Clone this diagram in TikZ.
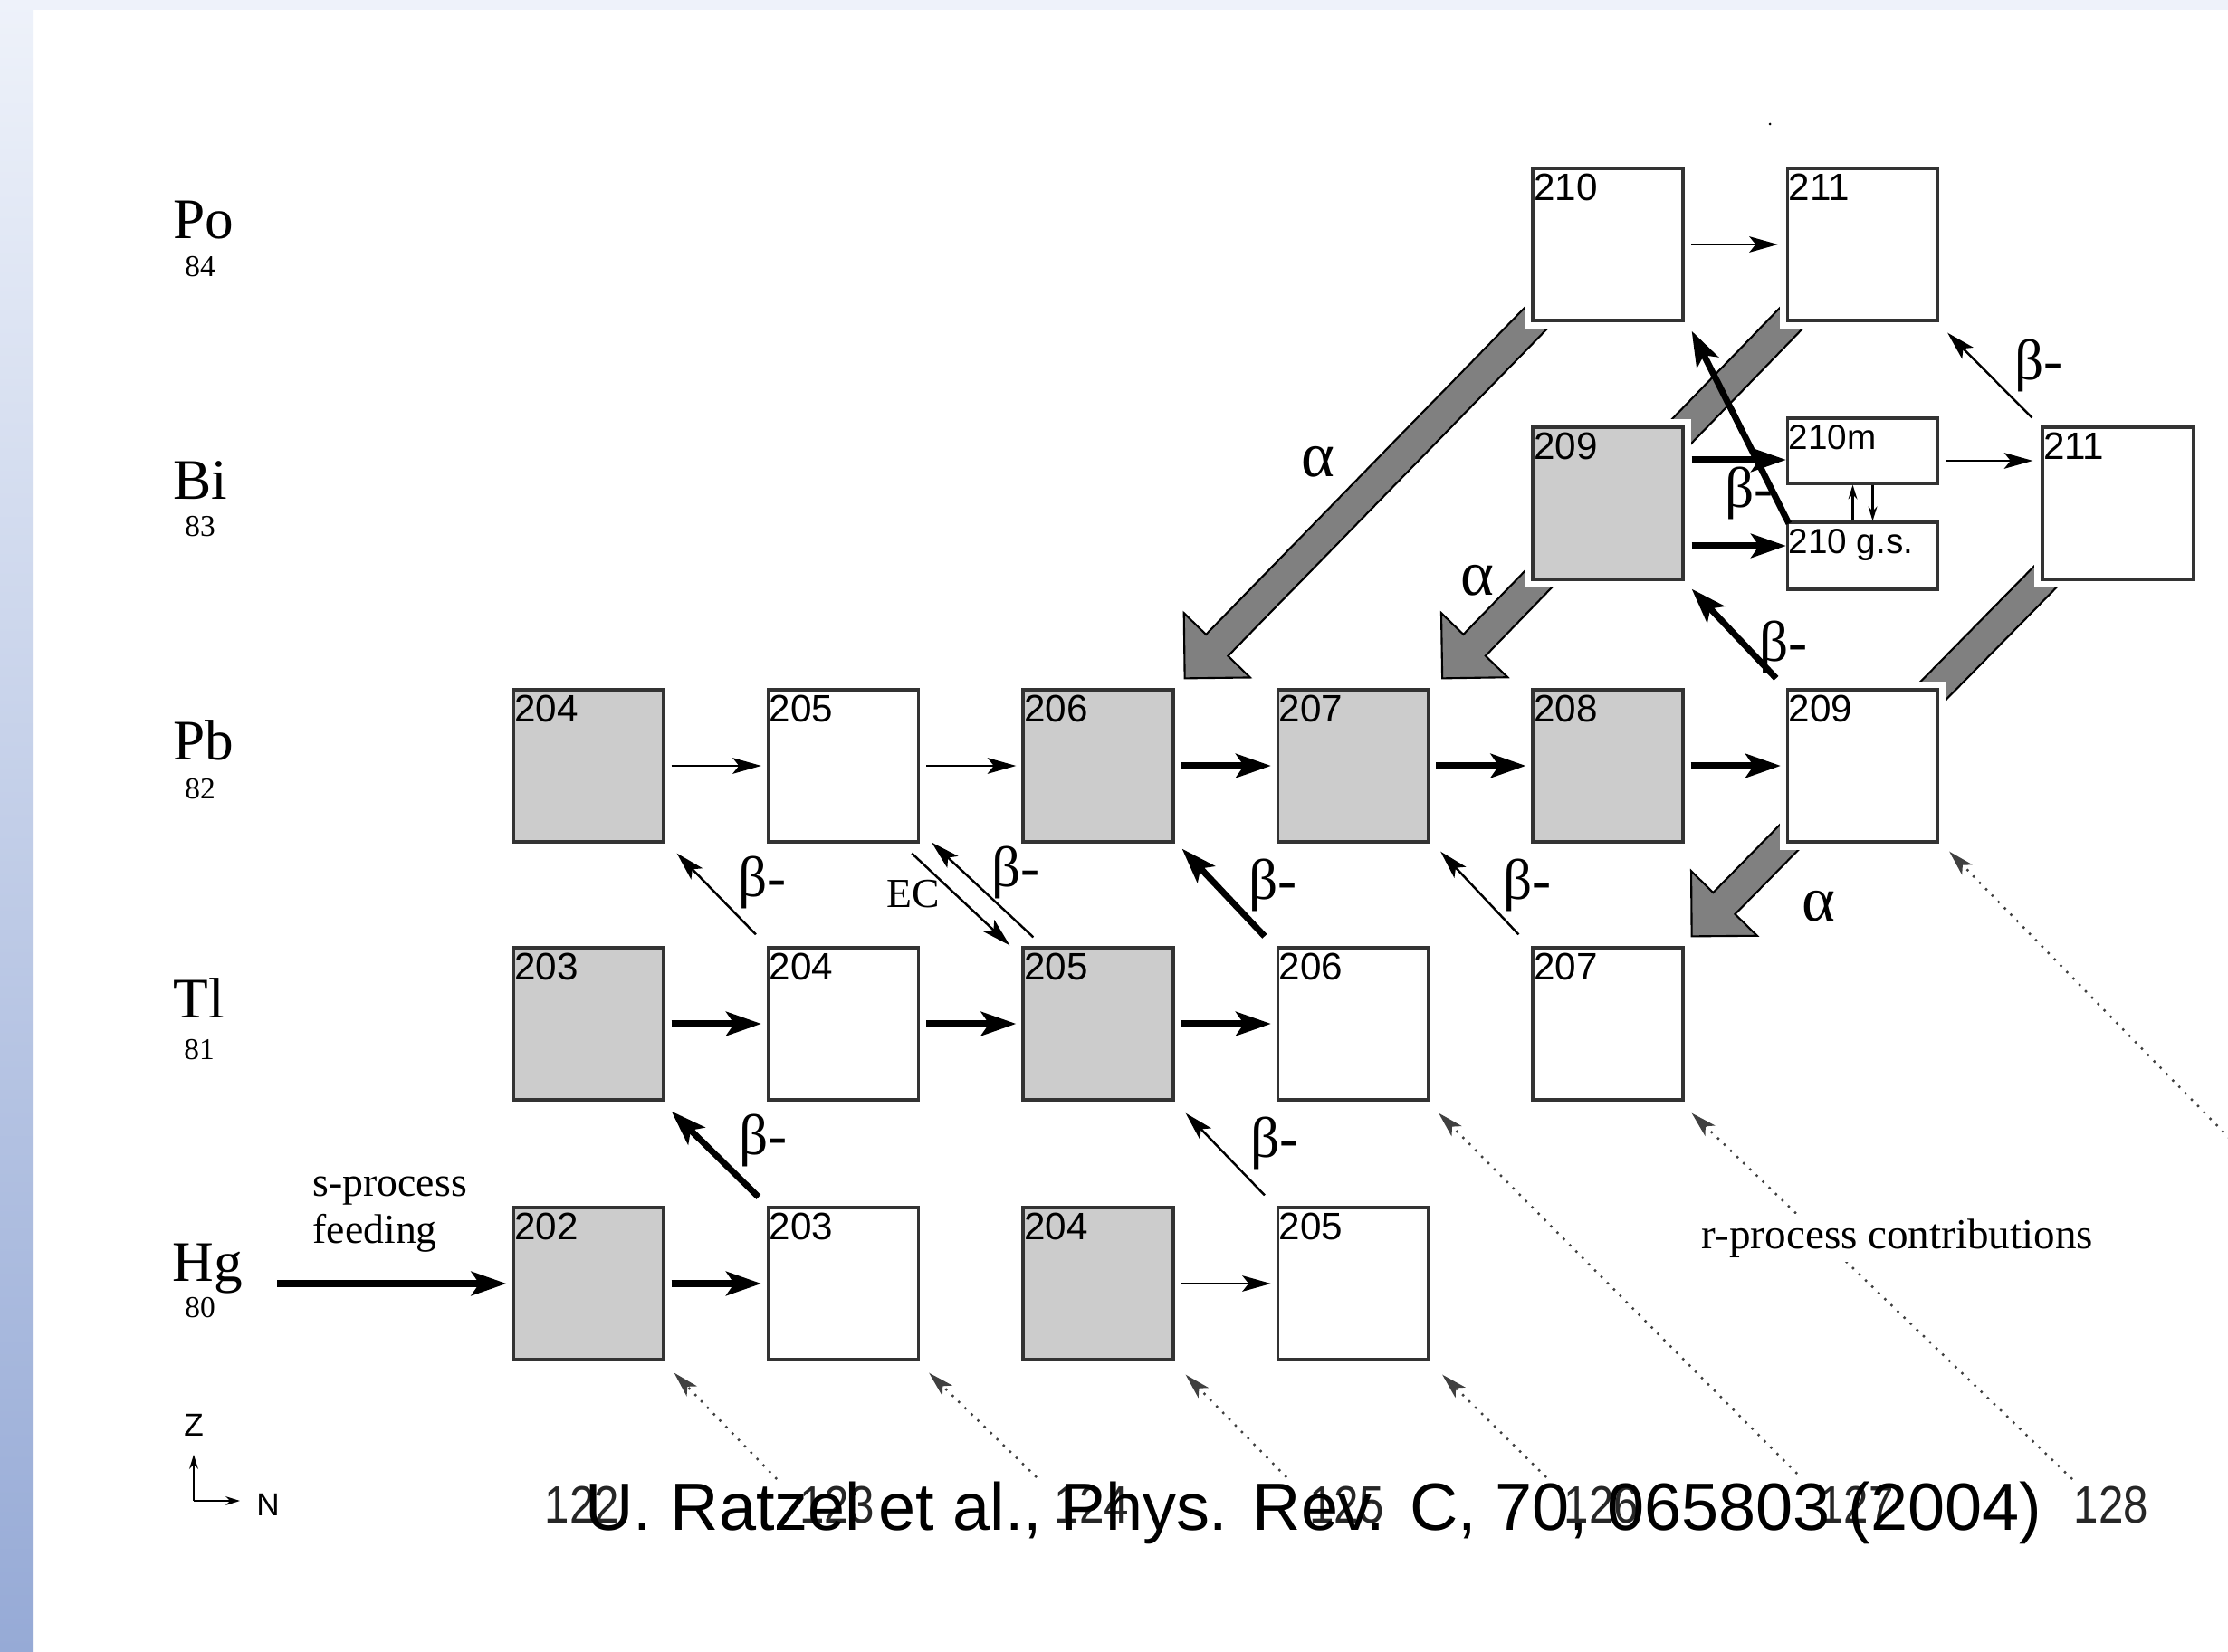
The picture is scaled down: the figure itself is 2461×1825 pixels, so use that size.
\documentclass[tikz,border=0pt]{standalone}
\usepackage{fontspec}
\setmainfont{Liberation Serif}
\newfontfamily\sansf{Liberation Sans}
\newfontfamily\narrowf{Liberation Sans}[FakeStretch=0.85]
\usetikzlibrary{calc,arrows.meta}
\newcommand\setfs[1]{\fontsize{#1}{#1}\selectfont}
\definecolor{bandtop}{RGB}{238,242,250}
\definecolor{stripbot}{RGB}{150,170,214}
\definecolor{boxgray}{RGB}{204,204,204}
\definecolor{alphagray}{RGB}{128,128,128}
\pgfdeclarelayer{bg}
\pgfdeclarelayer{back}
\pgfsetlayers{bg,back,main}
\newcommand\fatarrow[2]{%
  \coordinate (faj) at ($(#2)!0.51cm!(#1)$);
  \draw[alphaarr] ($(#1)!0.17cm!90:(#2)$) -- ($(faj)!0.17cm!-90:(#1)$)
    -- ($(faj)!0.51cm!-90:(#1)$) -- (#2) -- ($(faj)!0.51cm!90:(#1)$)
    -- ($(faj)!0.17cm!90:(#1)$) -- ($(#1)!0.17cm!-90:(#2)$) -- cycle;}
\tikzset{
  box/.style={draw=black!80, line width=0.9pt, minimum width=1.66cm, minimum height=1.68cm,
    inner sep=0pt, preaction={draw=white, line width=5pt}},
  stable/.style={box, fill=boxgray},
  unstable/.style={box, fill=white},
  num/.style={label={[anchor=north west, inner sep=0pt, font=\sansf\setfs{12pt}, xshift=0.02cm, yshift=-0.07cm]north west:#1}},
  numsm/.style={label={[anchor=north west, inner sep=0pt, font=\sansf\setfs{11pt}, xshift=0.02cm, yshift=-0.08cm]north west:#1}},
  thinarr/.style={line width=0.7pt, -{Stealth[length=9pt, width=5pt, inset=2pt]}},
  thickarr/.style={line width=2pt, -{Stealth[length=11pt, width=7.5pt, inset=2.5pt]}},
  dotarr/.style={draw=black!75, line width=0.7pt, dash pattern=on 0.7pt off 2.1pt,
    -{Stealth[length=8pt, width=4.5pt, inset=2pt]}},
  smallarr/.style={line width=0.6pt, -{Stealth[length=4.5pt, width=2.8pt]}},
  alphaarr/.style={fill=alphagray, draw=black, line width=0.6pt, line join=miter},
  elem/.style={font=\setfs{18pt}, anchor=base, inner sep=0pt},
  zsub/.style={font=\setfs{9.5pt}, anchor=base, inner sep=0pt},
  betal/.style={font=\setfs{18pt}, inner sep=0pt},
  alphal/.style={font=\setfs{20pt}, inner sep=0pt},
  axisn/.style={font=\narrowf\setfs{16.5pt}, anchor=base, inner sep=0pt, text=black!85},
  small/.style={font=\sansf\setfs{10pt}, inner sep=0pt},
}
\begin{document}
\begin{tikzpicture}[x=0.01cm, y=-0.01cm]
\path[use as bounding box] (0,0) rectangle (2461,1825);
\begin{pgfonlayer}{bg}
  \fill[white] (0,0) rectangle (2461,1825);
  \fill[bandtop] (0,0) rectangle (2461,11);
  \shade[top color=bandtop, bottom color=stripbot] (0,0) rectangle (37,1825);
\end{pgfonlayer}

% ---------- boxes ----------
\node[unstable, num=210] (po210) at (1776,270) {};
\node[unstable, num=211] (po211) at (2057.5,270) {};
\node[stable, num=209] (bi209) at (1776,556) {};
\node[unstable, numsm=210m, minimum height=0.72cm] (b210m) at (2057.5,498) {};
\node[unstable, numsm={210 g.s.}, minimum height=0.74cm] (b210g) at (2057.5,614) {};
\node[unstable, num=211] (bi211) at (2339,556) {};

\node[stable, num=204] (pb204) at (650,846) {};
\node[unstable, num=205] (pb205) at (931.5,846) {};
\node[stable, num=206] (pb206) at (1213,846) {};
\node[stable, num=207] (pb207) at (1494.5,846) {};
\node[stable, num=208] (pb208) at (1776,846) {};
\node[unstable, num=209] (pb209) at (2057.5,846) {};

\node[stable, num=203] (tl203) at (650,1131) {};
\node[unstable, num=204] (tl204) at (931.5,1131) {};
\node[stable, num=205] (tl205) at (1213,1131) {};
\node[unstable, num=206] (tl206) at (1494.5,1131) {};
\node[unstable, num=207] (tl207) at (1776,1131) {};

\node[stable, num=202] (hg202) at (650,1418) {};
\node[unstable, num=203] (hg203) at (931.5,1418) {};
\node[stable, num=204] (hg204) at (1213,1418) {};
\node[unstable, num=205] (hg205) at (1494.5,1418) {};

% ---------- alpha arrows (behind boxes) ----------
\coordinate (a1tip) at ($(pb206.north east)+(11,-11)$);
\coordinate (a2tip) at ($(pb207.north east)+(14,-11)$);
\coordinate (a3tip) at ($(tl207.north east)+(8,-11)$);
\begin{pgfonlayer}{back}
  \fatarrow{po210.center}{a1tip}
  \fatarrow{po211.center}{a2tip}
  \fatarrow{bi211.center}{a3tip}
\end{pgfonlayer}

% ---------- horizontal (n-capture) arrows ----------
\draw[thinarr] ($(po210.east)+(7,0)$) -- ($(po211.west)+(-9,0)$);
\coordinate (s1) at ($(bi209.east)+(8,-48)$);
\coordinate (s2) at ($(bi209.east)+(8,47)$);
\draw[thickarr] (s1) -- (s1 -| b210m.west);
\draw[thickarr] (s2) -- (s2 -| b210g.west);
\coordinate (s3) at ($(b210m.east)+(7,11)$);
\coordinate (s3e) at (s3 -| bi211.west);
\draw[thinarr] (s3) -- ($(s3e)+(-9,0)$);

\draw[thinarr] ($(pb204.east)+(7,0)$) -- ($(pb205.west)+(-6,0)$);
\draw[thinarr] ($(pb205.east)+(7,0)$) -- ($(pb206.west)+(-6,0)$);
\draw[thickarr] ($(pb206.east)+(7,0)$) -- ($(pb207.west)+(-6,0)$);
\draw[thickarr] ($(pb207.east)+(7,0)$) -- ($(pb208.west)+(-6,0)$);
\draw[thickarr] ($(pb208.east)+(7,0)$) -- ($(pb209.west)+(-6,0)$);

\draw[thickarr] ($(tl203.east)+(7,0)$) -- ($(tl204.west)+(-6,0)$);
\draw[thickarr] ($(tl204.east)+(7,0)$) -- ($(tl205.west)+(-6,0)$);
\draw[thickarr] ($(tl205.east)+(7,0)$) -- ($(tl206.west)+(-6,0)$);

\coordinate (feed) at (306,1418);
\draw[thickarr] (feed) -- ($(hg202.west)+(-6,0)$);
\draw[thickarr] ($(hg202.east)+(7,0)$) -- ($(hg203.west)+(-6,0)$);
\draw[thinarr] ($(hg204.east)+(7,0)$) -- ($(hg205.west)+(-6,0)$);

% 210m <-> 210 g.s.
\draw[smallarr] ($(b210g.north)+(-11,0)$) -- ($(b210m.south)+(-11,0)$);
\draw[smallarr] ($(b210m.south)+(11,0)$) -- ($(b210g.north)+(11,0)$);

% ---------- beta / EC arrows ----------
\draw[thinarr] ($(tl204.north west)+(-12,-13)$) -- ($(pb204.south east)+(13,11)$);
\draw[thinarr] ($(tl205.north west)+(13,-10)$) -- ($(pb205.south east)+(13,-1)$);
\draw[thinarr] ($(pb205.south east)+(-9,11)$) -- ($(tl205.north west)+(-13,-1)$);
\draw[thickarr] ($(tl206.north west)+(-13,-11)$) -- ($(pb206.south east)+(8,6)$);
\draw[thinarr] ($(tl207.north west)+(-14,-13)$) -- ($(pb207.south east)+(12,9)$);
\draw[thickarr] ($(hg203.north west)+(-9,-10)$) -- ($(tl203.south east)+(7,11)$);
\draw[thinarr] ($(hg205.north west)+(-13,-12)$) -- ($(tl205.south east)+(12,13)$);
\draw[thickarr] ($(pb209.north west)+(-11,-11)$) -- ($(bi209.south east)+(8,9)$);
\draw[thinarr] ($(bi211.north west)+(-10,-9)$) -- ($(po211.south east)+(9,12)$);
\draw[thickarr] ($(b210g.north west)+(3,3)$) -- ($(po210.south east)+(8,10)$);

% ---------- r-process (dotted) ----------
\coordinate (r1s) at (858,1634);
\coordinate (r2s) at (1145,1632);
\coordinate (r3s) at (1421,1632);
\coordinate (r4s) at (1708,1632);
\coordinate (r5s) at (1985,1628);
\coordinate (r6s) at (2289,1634);
\coordinate (r7s) at (2470,1265);
\draw[dotarr] (r1s) -- ($(hg202.south east)+(10,13)$);
\draw[dotarr] (r2s) -- ($(hg203.south east)+(10,13)$);
\draw[dotarr] (r3s) -- ($(hg204.south east)+(12,15)$);
\draw[dotarr] (r4s) -- ($(hg205.south east)+(14,15)$);
\draw[dotarr] (r5s) -- ($(tl206.south east)+(10,13)$);
\draw[dotarr] (r6s) -- ($(tl207.south east)+(8,13)$);
\draw[dotarr] (r7s) -- ($(pb209.south east)+(11,9)$);
\node[anchor=base, font=\setfs{13.4pt}, fill=white, inner sep=1.5pt] (rproc) at (2096,1379) {r-process contributions};

% ---------- labels ----------
\node[betal] (lb1) at (842,975) {β-};
\node[betal] (lb2) at (1122,964) {β-};
\node[font=\setfs{13pt}, inner sep=0pt] (lec) at (1009,988) {EC};
\node[betal] (lb3) at (1406,978) {β-};
\node[betal] (lb4) at (1687,978) {β-};
\node[betal] (lb5) at (843,1260) {β-};
\node[betal] (lb6) at (1408,1263) {β-};
\node[betal] (lb7) at (1970,715) {β-};
\node[betal] (lb8) at (2252,404) {β-};
\node[betal] (lb9) at (1932,545) {β-};
\node[alphal] (la1) at (1456,510) {α};
\node[alphal] (la2) at (1632,641) {α};
\node[alphal] (la3) at (2009,1001) {α};

\node[elem] (lpo) at (225,264) {Po};  \node[zsub] (zpo) at (221,306) {84};
\node[elem] (lbi) at (221,552) {Bi};  \node[zsub] (zbi) at (221,593) {83};
\node[elem] (lpb) at (225,839) {Pb};  \node[zsub] (zpb) at (221,882) {82};
\node[elem] (ltl) at (220,1124) {Tl}; \node[zsub] (ztl) at (220,1170) {81};
\node[elem] (lhg) at (229,1415) {Hg}; \node[zsub] (zhg) at (221,1455) {80};

\node[anchor=base west, font=\setfs{13pt}, inner sep=0pt] (sp1) at (345,1321) {s-process};
\node[anchor=base west, font=\setfs{13pt}, inner sep=0pt] (sp2) at (345,1373) {feeding};

% Z / N axes
\coordinate (zn) at (214,1658);
\coordinate (zt) at (214,1607);
\coordinate (nt) at (265,1658);
\draw[smallarr] (zn) -- (zt);
\draw[smallarr] (zn) -- (nt);
\node[small] (zlab) at (214,1574) {Z};
\node[small] (nlab) at (296,1662) {N};

% N axis numbers
\node[axisn] (n122) at (643,1682) {122};
\node[axisn] (n123) at (924.5,1682) {123};
\node[axisn] (n124) at (1206,1682) {124};
\node[axisn] (n125) at (1487.5,1682) {125};
\node[axisn] (n126) at (1769,1682) {126};
\node[axisn] (n127) at (2050.5,1682) {127};
\node[axisn] (n128) at (2332,1682) {128};

\node[anchor=base, font=\sansf\setfs{21pt}, inner sep=0pt] (cite) at (1451,1690)
  {U. Ratzel et al., Phys. Rev. C, 70, 065803 (2004)};

\fill (1955,137) circle[radius=0.015cm];
\end{tikzpicture}
\end{document}
